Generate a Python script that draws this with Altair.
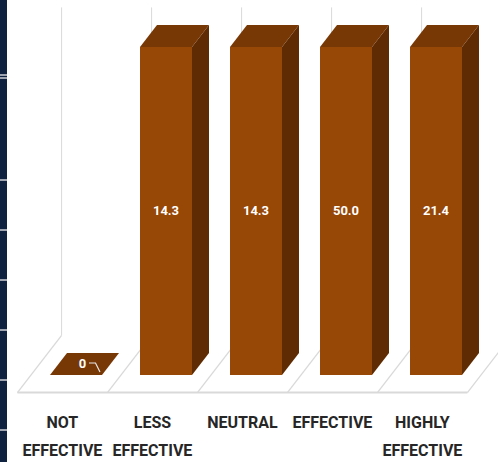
import altair as alt
import pandas as pd

# ---------------- data ----------------
categories = ["NOT EFFECTIVE", "LESS EFFECTIVE", "NEUTRAL", "EFFECTIVE", "HIGHLY EFFECTIVE"]
axis_labels = ["NOT\nEFFECTIVE", "LESS\nEFFECTIVE", "NEUTRAL", "EFFECTIVE", "HIGHLY\nEFFECTIVE"]
values = [0, 14.3, 14.3, 50.0, 21.4]
value_labels = ["0", "14.3", "14.3", "50.0", "21.4"]

# ---------------- geometry / style ----------------
W, H = 498, 462
CAP = 14.3                 # visible value range of the source (taller bars are cut at the top)
X_STEP = 90.0              # px per category
Y_PX = 328.0 / CAP         # px per value unit
X0_PX = 76.0               # px of category 0
Y0_PX = 375.0              # px of value 0
DX = 17.0 / X_STEP         # depth offset in category units (per unit depth)
DY = 22.0 / Y_PX           # depth offset in value units (per unit depth)
HALF = 26.0 / X_STEP       # half bar width
FLOOR_FRONT, FLOOR_BACK = -0.8, 1.8

FRONT = "#974706"
TOP = "#783805"
SIDE = "#5e2b03"
GRID = "#d9d9d9"
NAVY = "#0f223f"
FONT = "Roboto, Liberation Sans, sans-serif"


def proj(x, y, d):
    return x + d * DX, y + d * DY


xs = alt.Scale(domain=[-X0_PX / X_STEP, (W - X0_PX) / X_STEP], nice=False, zero=False)
ys = alt.Scale(domain=[-(H - Y0_PX) / Y_PX, Y0_PX / Y_PX], nice=False, zero=False)

heights = [min(v, CAP) for v in values]

# front faces
front = pd.DataFrame({
    "cat": categories,
    "x": [i - HALF for i in range(len(values))],
    "x2": [i + HALF for i in range(len(values))],
    "y": [0.0] * len(values),
    "y2": heights,
})

# side faces (vertical areas) and top faces (horizontal areas)
side_rows, top_rows = [], []
for i, (c, h) in enumerate(zip(categories, heights)):
    for d in (0.0, 1.0):
        xa, ya = proj(i + HALF, h, d)
        _, yb = proj(i + HALF, 0.0, d)
        side_rows.append({"cat": c, "x": xa, "y": ya, "y2": yb})
        xl, yt = proj(i - HALF, h, d)
        xr, _ = proj(i + HALF, h, d)
        top_rows.append({"cat": c, "y": yt, "x": xl, "x2": xr})
side = pd.DataFrame(side_rows)
top = pd.DataFrame(top_rows)

# floor lines and back gridlines
floor_rows = []
grid_rows = []
for k in range(len(values) + 1):
    xa, ya = proj(k - 0.5, 0.0, FLOOR_FRONT)
    xb, yb = proj(k - 0.5, 0.0, FLOOR_BACK)
    floor_rows.append({"x": xa, "y": ya, "x2": xb, "y2": yb})
    xg, yg = proj(k - 0.5, 0.0, FLOOR_BACK)
    xg2, yg2 = proj(k - 0.5, CAP, FLOOR_BACK)
    grid_rows.append({"x": xg, "y": yg, "x2": xg2, "y2": yg2})
xa, ya = proj(-0.5, 0.0, FLOOR_FRONT)
xb, yb = proj(len(values) - 0.5, 0.0, FLOOR_FRONT)
front_edge = pd.DataFrame([{"x": xa, "y": ya, "x2": xb, "y2": yb}])
floor = pd.DataFrame(floor_rows)
grid = pd.DataFrame(grid_rows)

# value labels
lab_rows = []
leader_rows = []
for i, (v, h, t) in enumerate(zip(values, heights, value_labels)):
    if h > 0:
        lab_rows.append({"x": i, "y": h / 2, "t": t})
    else:
        lx, ly = proj(i, 0.0, 0.5)
        lab_rows.append({"x": lx - 2.0 / X_STEP, "y": ly, "t": t})
        for j, (ox, oy) in enumerate([(4.5, 1.0), (11.0, 1.0), (15.5, -8.0)]):
            leader_rows.append({"x": lx + ox / X_STEP, "y": ly + oy / Y_PX, "o": j})
labels = pd.DataFrame(lab_rows)
leader = pd.DataFrame(leader_rows)

# category labels at the floor front edge
cat_rows = []
for i, t in enumerate(axis_labels):
    cx, cy = proj(i, 0.0, FLOOR_FRONT)
    cat_rows.append({"x": cx, "y": cy, "t": t})
cats = pd.DataFrame(cat_rows)

X = lambda f: alt.X(f, type="quantitative", scale=xs, axis=None)
Y = lambda f: alt.Y(f, type="quantitative", scale=ys, axis=None)

grid_layer = alt.Chart(grid).mark_rule(color=GRID, strokeWidth=1).encode(
    x=X("x"), y=Y("y"), x2="x2", y2="y2")
floor_layer = alt.Chart(floor).mark_rule(color=GRID, strokeWidth=1.3).encode(
    x=X("x"), y=Y("y"), x2="x2", y2="y2")
edge_layer = alt.Chart(front_edge).mark_rule(color=GRID, strokeWidth=2).encode(
    x=X("x"), y=Y("y"), x2="x2", y2="y2")

side_layer = alt.Chart(side).mark_area(color=SIDE, orient="vertical").encode(
    x=X("x"), y=Y("y"), y2="y2", detail="cat:N")
top_layer = alt.Chart(top).mark_area(color=TOP, orient="horizontal").encode(
    y=Y("y"), x=X("x"), x2="x2", detail="cat:N")
front_layer = alt.Chart(front).mark_rect(color=FRONT).encode(
    x=X("x"), x2="x2", y=Y("y"), y2="y2")

label_layer = alt.Chart(labels).mark_text(
    color="white", font=FONT, fontWeight="bold", fontSize=13,
    baseline="middle", align="center").encode(
    x=X("x"), y=Y("y"), text="t:N")
leader_layer = alt.Chart(leader).mark_line(color="#e6e6e6", strokeWidth=1.2).encode(
    x=X("x"), y=Y("y"), order="o:Q")

cat_layer = alt.Chart(cats).mark_text(
    color="#262626", font=FONT, fontWeight="bold", fontSize=16,
    baseline="top", align="center", dy=22,
    lineBreak="\n", lineHeight=28).encode(
    x=X("x"), y=Y("y"), text="t:N")

# decorative navy strip on the left edge (cropped slide border)
strip = alt.Chart(pd.DataFrame({"a": [0]})).mark_rect(color=NAVY).encode(
    x=alt.value(0), x2=alt.value(7), y=alt.value(0), y2=alt.value(H))
strip_ticks_y = [75, 78, 180, 230, 280, 330, 380, 430]
strip_ticks = alt.Chart(pd.DataFrame({"p": strip_ticks_y})).mark_rule(
    color="white", strokeWidth=1.2).encode(
    x=alt.value(0), x2=alt.value(7),
    y=alt.Y("p:Q", scale=alt.Scale(domain=[0, H], range=[0, H]), axis=None))

chart = alt.layer(
    grid_layer, floor_layer, edge_layer,
    side_layer, top_layer, front_layer,
    label_layer, leader_layer, cat_layer,
    strip, strip_ticks,
).resolve_scale(y="independent").properties(
    width=W, height=H, autosize=alt.AutoSizeParams(type="none"), padding=0,
    background="white",
).configure_view(stroke=None)

chart.save("out.html", embed_options={"renderer": "svg", "actions": False})
